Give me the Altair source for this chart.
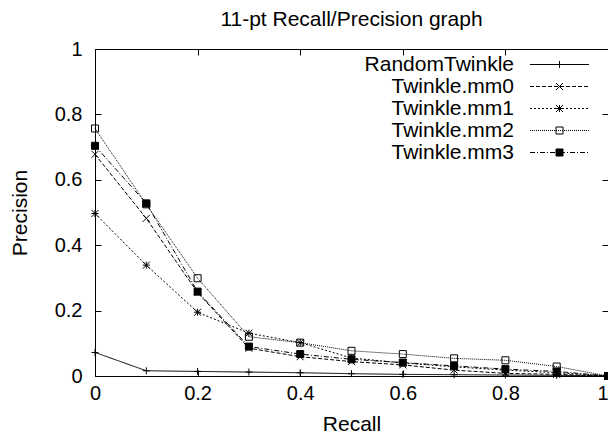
import altair as alt
import pandas as pd

# ---------------- data ----------------
recall = [0.0, 0.1, 0.2, 0.3, 0.4, 0.5, 0.6, 0.7, 0.8, 0.9, 1.0]
series_names = ["RandomTwinkle", "Twinkle.mm0", "Twinkle.mm1", "Twinkle.mm2", "Twinkle.mm3"]
random_twinkle = [0.072, 0.016, 0.014, 0.012, 0.010, 0.007, 0.005, 0.004, 0.003, 0.002, 0.0]
twinkle_mm0 = [0.678, 0.482, 0.255, 0.085, 0.059, 0.044, 0.034, 0.018, 0.008, 0.005, 0.0]
twinkle_mm1 = [0.497, 0.339, 0.195, 0.131, 0.102, 0.055, 0.040, 0.028, 0.018, 0.010, 0.0]
twinkle_mm2 = [0.757, 0.525, 0.299, 0.120, 0.102, 0.077, 0.067, 0.054, 0.048, 0.029, 0.0]
twinkle_mm3 = [0.704, 0.528, 0.258, 0.090, 0.067, 0.051, 0.041, 0.031, 0.021, 0.014, 0.0]
tick_values = [0.0, 0.2, 0.4, 0.6, 0.8, 1.0]

rows = []
for name, vals in zip(series_names, [random_twinkle, twinkle_mm0, twinkle_mm1, twinkle_mm2, twinkle_mm3]):
    for r, p in zip(recall, vals):
        rows.append({"series": name, "recall": r, "precision": p})
df = pd.DataFrame(rows)

# ---------------- styles ----------------
FONT = "Liberation Sans"
FS = 21
TICK_FS = 20
dash_patterns = [None, [4, 2], [2, 2], [1, 1], [5, 2, 1, 2]]
stroke_dash_range = [[1, 0] if d is None else d for d in dash_patterns]

PLUS = "M-1,0L1,0M0,-1L0,1"
CROSS = "M-1,-1L1,1M-1,1L1,-1"
STAR = PLUS + CROSS
SQUARE = "M-1,-1L1,-1L1,1L-1,1Z"
plot_shapes = [PLUS, CROSS, STAR, SQUARE, SQUARE]
fill_range = ["transparent", "transparent", "transparent", "transparent", "black"]

# legend sample geometry (symbol units: 1 unit = 10 px with symbolSize 400)
UNIT = 10.0
X0, X1 = 2.65, 8.55     # sample line extent, right of the symbol anchor
MC = 5.6                # marker centre
M = 0.35                # marker half size


def dashed_line(pattern):
    if pattern is None:
        return f"M{X0},0L{X1},0"
    out = []
    x = X0
    i = 0
    while x < X1 - 1e-9:
        on = pattern[i % len(pattern)] / UNIT
        off = pattern[(i + 1) % len(pattern)] / UNIT
        x2 = min(x + on, X1)
        out.append(f"M{x:.3f},0L{x2:.3f},0")
        x = x2 + off
        i += 2
    return "".join(out)


def p(x, y):
    return f"{MC + x:.3f},{y:.3f}"


leg_markers = [
    f"M{p(-M, 0)}L{p(M, 0)}M{p(0, -M)}L{p(0, M)}",
    f"M{p(-M, -M)}L{p(M, M)}M{p(-M, M)}L{p(M, -M)}",
    f"M{p(-M, 0)}L{p(M, 0)}M{p(0, -M)}L{p(0, M)}M{p(-M, -M)}L{p(M, M)}M{p(-M, M)}L{p(M, -M)}",
    f"M{p(-M, -M)}L{p(M, -M)}M{p(M, -M)}L{p(M, M)}M{p(M, M)}L{p(-M, M)}M{p(-M, M)}L{p(-M, -M)}",
    f"M{p(-M, -M)}L{p(M, -M)}L{p(M, M)}L{p(-M, M)}Z",
]
legend_shapes = [dashed_line(d) + m for d, m in zip(dash_patterns, leg_markers)]

xs = alt.Scale(domain=[0, 1], nice=False, zero=False)
ys = alt.Scale(domain=[0, 1], nice=False, zero=False)
base = alt.Chart(df)

lines = base.mark_line(color="black", strokeWidth=1).encode(
    x=alt.X("recall:Q", scale=xs, axis=alt.Axis(
        orient="bottom", offset=-6, tickSize=6, domain=False, grid=False,
        values=tick_values, format="~g", labelPadding=7, title="Recall",
        labelAlign=alt.ExprRef(expr="datum.value >= 1 ? 'right' : 'center'"),
        titlePadding=10)),
    y=alt.Y("precision:Q", scale=ys, axis=alt.Axis(
        orient="left", offset=-6, tickSize=6, domain=False, grid=False,
        values=tick_values, format="~g", labelPadding=13, title="Precision",
        titlePadding=24)),
    strokeDash=alt.StrokeDash("series:N", scale=alt.Scale(domain=series_names, range=stroke_dash_range), legend=None),
)

points = base.mark_point(stroke="black", strokeWidth=1, size=49, opacity=1).encode(
    x=alt.X("recall:Q", scale=xs, axis=alt.Axis(
        orient="top", offset=-6, tickSize=6, domain=False, grid=False,
        values=tick_values, labels=False, title=None)),
    y=alt.Y("precision:Q", scale=ys, axis=alt.Axis(
        orient="right", offset=-6, tickSize=6, domain=False, grid=False,
        values=tick_values, labels=False, title=None)),
    shape=alt.Shape("series:N", scale=alt.Scale(domain=series_names, range=plot_shapes), legend=None),
    fill=alt.Fill("series:N", scale=alt.Scale(domain=series_names, range=fill_range), legend=None),
)

legend_layer = base.transform_filter("datum.recall > 1.5").mark_point(
    filled=True, fill="black", stroke="black", strokeWidth=1, opacity=1
).encode(
    x=alt.X("recall:Q", scale=xs, axis=None),
    y=alt.Y("precision:Q", scale=ys, axis=None),
    shape=alt.Shape("series:N", scale=alt.Scale(domain=series_names, range=legend_shapes),
                    legend=alt.Legend(title=None, orient="none", legendX=398, legendY=5,
                                      labelAlign="right", labelOffset=0, labelFontSize=FS,
                                      labelFont=FONT, labelColor="black", symbolSize=400,
                                      symbolStrokeWidth=1, rowPadding=0, padding=0,
                                      symbolOffset=0, labelLimit=400)),
)

chart = alt.layer(lines, points, legend_layer).resolve_scale(
    shape="independent"
).resolve_axis(
    x="independent", y="independent"
).properties(
    width=513, height=327,
    title=alt.TitleParams("11-pt Recall/Precision graph", fontSize=FS, fontWeight="normal",
                          font=FONT, color="black", anchor="middle", baseline="alphabetic",
                          offset=12, dy=20),
    autosize=alt.AutoSizeParams(type="none"),
    padding={"left": 87, "top": 41, "right": 0, "bottom": 60},
).configure_view(
    stroke="black", strokeWidth=1
).configure_axis(
    labelFont=FONT, titleFont=FONT, labelColor="black", titleColor="black",
    tickColor="black", tickWidth=1, labelFontSize=TICK_FS, titleFontSize=FS,
    titleFontWeight="normal", grid=False
)

chart.save("out.html", embed_options={"renderer": "svg", "actions": False})
